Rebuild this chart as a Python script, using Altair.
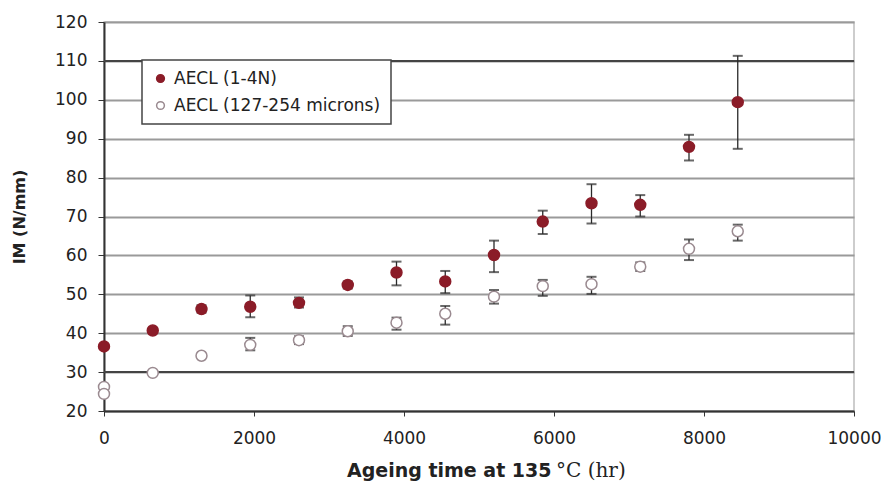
import altair as alt
import pandas as pd

# ---- data ----
series_names = ["AECL (1-4N)", "AECL (127-254 microns)"]

filled_time = [0, 650, 1300, 1950, 2600, 3250, 3900, 4550, 5200, 5850, 6500, 7150, 7800, 8450]
filled_val = [36.6, 40.7, 46.2, 46.8, 47.8, 52.4, 55.6, 53.3, 60.1, 68.7, 73.4, 73.0, 87.9, 99.4]
filled_lo = [36.6, 40.7, 45.3, 44.1, 46.6, 51.5, 52.3, 50.3, 55.7, 65.5, 68.2, 70.0, 84.4, 87.4]
filled_hi = [36.6, 40.7, 47.2, 49.7, 49.2, 53.3, 58.4, 56.0, 63.8, 71.5, 78.3, 75.5, 91.0, 111.3]

open_time = [0, 0, 650, 1300, 1950, 2600, 3250, 3900, 4550, 5200, 5850, 6500, 7150, 7800, 8450]
open_val = [26.2, 24.4, 29.8, 34.2, 37.0, 38.2, 40.5, 42.7, 45.0, 49.4, 52.1, 52.6, 57.1, 61.7, 66.2]
open_lo = [26.2, 24.4, 29.8, 34.2, 35.6, 37.2, 39.3, 40.9, 42.2, 47.6, 49.6, 50.1, 56.0, 58.8, 63.8]
open_hi = [26.2, 24.4, 29.8, 34.2, 38.8, 39.2, 41.8, 44.0, 47.0, 51.1, 53.7, 54.5, 58.2, 64.1, 67.9]

x_ticks = [0, 2000, 4000, 6000, 8000, 10000]
y_ticks = [20, 30, 40, 50, 60, 70, 80, 90, 100, 110, 120]
dark_grid = [110, 30]

x_title_main = "Ageing time at 135"
x_title_unit = "°C (hr)"
y_title = "IM (N/mm)"

# ---- tables ----
df = pd.concat([
    pd.DataFrame({"time": filled_time, "val": filled_val, "lo": filled_lo, "hi": filled_hi,
                  "series": series_names[0]}),
    pd.DataFrame({"time": open_time, "val": open_val, "lo": open_lo, "hi": open_hi,
                  "series": series_names[1]}),
], ignore_index=True)

FONT = "DejaVu Sans"
RED = "#8b1c28"

xscale = alt.Scale(domain=[0, 10000], nice=False)
yscale = alt.Scale(domain=[20, 120], nice=False)

x_axis = alt.Axis(values=x_ticks, format="d", title=None, grid=False,
                  labelFontSize=17, labelFont=FONT, labelColor="#222",
                  labelPadding=14, tickSize=5, tickColor="#333",
                  domainColor="#333", domainWidth=2, labelFlush=False,
                  labelOverlap=False)
y_axis = alt.Axis(values=y_ticks, format="d", title=y_title, grid=True, gridColor="#9a9a9a",
                  gridWidth=2, labelFontSize=17, labelFont=FONT, labelColor="#222",
                  labelPadding=11, tickSize=6, tickColor="#333", domainColor="#333",
                  domainWidth=2, labelOverlap=False, titleFont=FONT, titleFontSize=16,
                  titleFontWeight="bold", titleColor="#222", titleX=-85,
                  titleBaseline="middle", titleAngle=-90)


def X(field):
    return alt.X(field, scale=xscale, axis=x_axis)


def Y(field):
    return alt.Y(field, scale=yscale, axis=y_axis)


base = alt.Chart(df)

darkgrid = alt.Chart(pd.DataFrame({"g": dark_grid})).mark_rule(
    color="#444", strokeWidth=2).encode(y=Y("g:Q"))

bars = base.mark_rule(color="#2a2a2a", strokeWidth=1.3).encode(
    x=X("time:Q"), y=Y("lo:Q"), y2="hi:Q")
cap_lo = base.mark_tick(color="#2a2a2a", orient="horizontal", size=10, thickness=2).encode(
    x=X("time:Q"), y=Y("lo:Q"))
cap_hi = base.mark_tick(color="#2a2a2a", orient="horizontal", size=10, thickness=2).encode(
    x=X("time:Q"), y=Y("hi:Q"))

legend = alt.Legend(title=None, orient="none", legendX=38, legendY=38,
                    strokeColor="#444", fillColor="white", padding=10,
                    labelFont=FONT, labelFontSize=17, labelColor="#222",
                    symbolSize=60, symbolStrokeWidth=1.5, rowPadding=9,
                    labelOffset=5, labelLimit=400, cornerRadius=0)
points = base.mark_point(shape="circle", filled=True, opacity=1, size=120,
                         strokeWidth=1.5).encode(
    x=X("time:Q"),
    y=Y("val:Q"),
    fill=alt.Fill("series:N", scale=alt.Scale(domain=series_names, range=[RED, "#ffffff"]),
                  legend=legend),
    stroke=alt.Stroke("series:N", scale=alt.Scale(domain=series_names, range=[RED, "#9a8a90"]),
                      legend=legend),
)

title_df = pd.DataFrame({"t": [x_title_main]})
title_main = alt.Chart(title_df).mark_text(
    font=FONT, fontSize=19, fontWeight="bold", align="left", baseline="alphabetic",
    color="#222").encode(text="t:N", x=alt.value(243), y=alt.value(455))
unit_df = pd.DataFrame({"t": [x_title_unit]})
title_unit = alt.Chart(unit_df).mark_text(
    font="DejaVu Serif", fontSize=20, align="left", baseline="alphabetic",
    color="#222").encode(text="t:N", x=alt.value(452), y=alt.value(455))

chart = alt.layer(darkgrid, bars, cap_lo, cap_hi, points, title_main, title_unit).properties(
    width=750, height=389,
    background="white",
    autosize=alt.AutoSizeParams(type="none"),
    padding={"left": 96, "top": 14, "right": 27, "bottom": 75},
).configure_view(
    stroke="#bdbdbd", strokeWidth=1.5
).configure_legend(
    strokeWidth=1.5
)

chart.save("out.html", embed_options={"renderer": "svg", "actions": False})
